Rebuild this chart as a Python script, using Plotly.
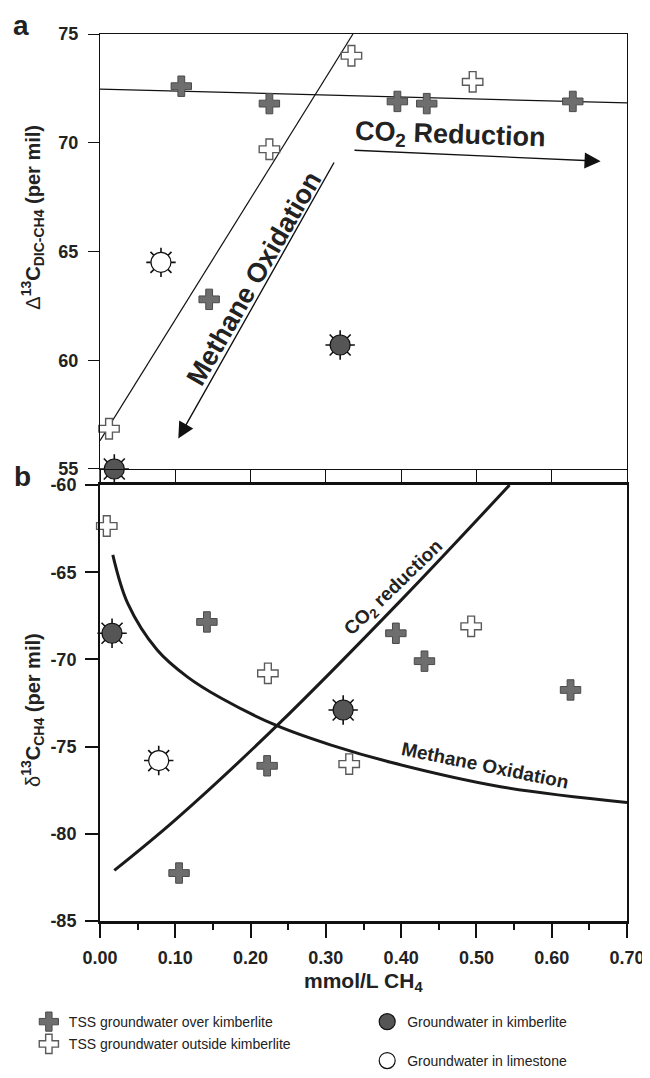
import plotly.graph_objects as go

# ---------------- data ----------------
# Panel a: Δ13C(DIC-CH4) vs CH4
over_x_a = [0.108, 0.225, 0.145, 0.395, 0.434, 0.628]
over_y_a = [72.6, 71.8, 62.8, 71.9, 71.8, 71.9]
out_x_a = [0.225, 0.334, 0.495, 0.012]
out_y_a = [69.7, 74.0, 72.8, 56.85]
gwk_x_a = [0.019, 0.319]
gwk_y_a = [55.0, 60.7]
lime_x_a = [0.081]
lime_y_a = [64.5]
trend_x_a = [0.0, 0.70]
trend_y_a = [72.47, 71.83]
steep_x_a = [0.0, 0.336]
steep_y_a = [56.3, 75.0]
# arrows (tail -> head)
mox_arrow_x = [0.312, 0.104]
mox_arrow_y = [69.16, 56.4]
co2_arrow_x = [0.336, 0.665]
co2_arrow_y = [69.66, 69.15]

# Panel b: δ13C(CH4) vs CH4
over_x_b = [0.142, 0.222, 0.105, 0.393, 0.431, 0.625]
over_y_b = [-67.85, -76.1, -82.25, -68.5, -70.1, -71.75]
out_x_b = [0.009, 0.223, 0.493, 0.331]
out_y_b = [-62.35, -70.8, -68.1, -76.0]
gwk_x_b = [0.016, 0.323]
gwk_y_b = [-68.5, -72.9]
lime_x_b = [0.078]
lime_y_b = [-75.8]
co2_x_b = [0.019, 0.10, 0.235, 0.40, 0.544]
co2_y_b = [-82.1, -79.2, -73.8, -66.6, -60.0]
mox_x_b = [0.017, 0.037, 0.076, 0.116, 0.16, 0.235, 0.306, 0.386, 0.532, 0.70]
mox_y_b = [-64.0, -66.8, -69.46, -71.0, -72.2, -73.8, -74.9, -75.9, -77.3, -78.2]

x_ticks = [0.0, 0.1, 0.2, 0.3, 0.4, 0.5, 0.6, 0.7]
x_tick_labels = ["0.00", "0.10", "0.20", "0.30", "0.40", "0.50", "0.60", "0.70"]
ya_ticks = [55, 60, 65, 70, 75]
ya_tick_labels = ["55", "60", "65", "70", "75"]
yb_ticks = [-85, -80, -75, -70, -65, -60]
yb_tick_labels = ["-85", "-80", "-75", "-70", "-65", "-60"]
names = ["TSS groundwater over kimberlite", "TSS groundwater outside kimberlite",
         "Groundwater in kimberlite", "Groundwater in limestone"]

FONT = "Liberation Sans, Arial, Helvetica, sans-serif"
INK = "#222222"

fig = go.Figure()

def add_points(xs, ys, xa, ya, show):
    fig.add_trace(go.Scatter(x=xs[0], y=ys[0], xaxis=xa, yaxis=ya, mode="markers",
        marker=dict(symbol="cross", size=17, color="#6e6e6e", line=dict(color="#4a4a4a", width=1)),
        name=names[0], showlegend=show, legend="legend", cliponaxis=False))
    fig.add_trace(go.Scatter(x=xs[1], y=ys[1], xaxis=xa, yaxis=ya, mode="markers",
        marker=dict(symbol="cross", size=17, color="white", line=dict(color="#5a5a5a", width=1.4)),
        name=names[1], showlegend=show, legend="legend2", cliponaxis=False))
    for k in (2, 3):
        fig.add_trace(go.Scatter(x=xs[k], y=ys[k], xaxis=xa, yaxis=ya, mode="markers",
            marker=dict(symbol="x-thin-open", size=21, color="#111111",
                        line=dict(color="#111111", width=1.6)),
            showlegend=False, hoverinfo="skip", cliponaxis=False))
        fig.add_trace(go.Scatter(x=xs[k], y=ys[k], xaxis=xa, yaxis=ya, mode="markers",
            marker=dict(symbol="cross-thin-open", size=21, color="#111111",
                        line=dict(color="#111111", width=1.6)),
            showlegend=False, hoverinfo="skip", cliponaxis=False))
    fig.add_trace(go.Scatter(x=xs[2], y=ys[2], xaxis=xa, yaxis=ya, mode="markers",
        marker=dict(symbol="circle", size=20, color="#555555", line=dict(color="#111111", width=1.2)),
        name=names[2], showlegend=show, legend="legend3", cliponaxis=False))
    fig.add_trace(go.Scatter(x=xs[3], y=ys[3], xaxis=xa, yaxis=ya, mode="markers",
        marker=dict(symbol="circle", size=20, color="white", line=dict(color="#111111", width=1.2)),
        name=names[3], showlegend=show, legend="legend4", cliponaxis=False))

# lines panel a
fig.add_trace(go.Scatter(x=trend_x_a, y=trend_y_a, xaxis="x", yaxis="y", mode="lines",
    line=dict(color="#111111", width=1.2), showlegend=False, hoverinfo="skip"))
fig.add_trace(go.Scatter(x=steep_x_a, y=steep_y_a, xaxis="x", yaxis="y", mode="lines",
    line=dict(color="#111111", width=1.2), showlegend=False, hoverinfo="skip"))
# curves panel b
fig.add_trace(go.Scatter(x=co2_x_b, y=co2_y_b, xaxis="x2", yaxis="y2", mode="lines",
    line=dict(color="#1a1a1a", width=3, shape="spline"), showlegend=False, hoverinfo="skip"))
fig.add_trace(go.Scatter(x=mox_x_b, y=mox_y_b, xaxis="x2", yaxis="y2", mode="lines",
    line=dict(color="#1a1a1a", width=3, shape="spline"), showlegend=False, hoverinfo="skip"))

add_points([over_x_a, out_x_a, gwk_x_a, lime_x_a], [over_y_a, out_y_a, gwk_y_a, lime_y_a], "x", "y", True)
add_points([over_x_b, out_x_b, gwk_x_b, lime_x_b], [over_y_b, out_y_b, gwk_y_b, lime_y_b], "x2", "y2", False)

tickfont = dict(family=FONT, size=18, color=INK, weight="bold")
legfont = dict(family=FONT, size=14, color=INK)

def leg(x, y):
    return dict(x=x, y=y, xanchor="left", yanchor="middle", orientation="v",
                font=legfont, bgcolor="rgba(0,0,0,0)", itemclick=False)

# The page body adds an 8px offset; the figure is made a little taller than the
# window so the bottom legend never forces plotly to shrink the plot area.
fig.update_layout(
    width=642, height=1110,
    margin=dict(l=92, r=23, t=26, b=197),
    paper_bgcolor="white", plot_bgcolor="white",
    font=dict(family=FONT, color=INK),
    xaxis=dict(domain=[0, 1], anchor="y", range=[0, 0.70], tickvals=x_ticks,
               showticklabels=False, ticks="outside", ticklen=15, tickwidth=1.2, tickcolor="#111",
               showline=True, linecolor="#111", linewidth=1.2, mirror=True,
               showgrid=False, zeroline=False, automargin=False),
    yaxis=dict(domain=[0.5096, 1], anchor="x", range=[55, 75], tickvals=ya_ticks,
               ticktext=ya_tick_labels,
               ticks="outside", ticklen=11, tickwidth=1.2, tickcolor="#111",
               showline=True, linecolor="#111", linewidth=1.2, mirror=True,
               showgrid=False, zeroline=False, tickfont=tickfont, automargin=False,
               ticklabelstandoff=6),
    xaxis2=dict(domain=[0, 1], anchor="y2", range=[0, 0.70], tickvals=x_ticks,
                ticktext=x_tick_labels, ticks="outside", ticklen=14, tickwidth=2.2, tickcolor="#111",
                minor=dict(dtick=0.05, tick0=0, ticks="outside", ticklen=6, tickwidth=1.8, tickcolor="#111"),
                showline=True, linecolor="#111", linewidth=2.6, mirror=True,
                showgrid=False, zeroline=False, tickfont=tickfont, automargin=False,
                ticklabelstandoff=5),
    yaxis2=dict(domain=[0, 0.4915], anchor="x2", range=[-85, -60], tickvals=yb_ticks,
                ticktext=yb_tick_labels,
                ticks="outside", ticklen=13, tickwidth=2, tickcolor="#111",
                showline=True, linecolor="#111", linewidth=2, mirror=True,
                showgrid=False, zeroline=False, tickfont=tickfont, automargin=False,
                ticklabelstandoff=5),
    legend=leg(-0.135, -0.1139),
    legend2=leg(-0.135, -0.1390),
    legend3=leg(0.507, -0.1139),
    legend4=leg(0.507, -0.1578),
    showlegend=True,
)

# left axis continuation through gap between panels
fig.add_shape(type="line", xref="paper", yref="paper", x0=0, x1=0, y0=0.4915, y1=0.5096,
              line=dict(color="#111", width=1.4))

annos = [
    dict(text="<b>a</b>", x=-0.150, y=1.010, xref="paper", yref="paper", showarrow=False,
         font=dict(family=FONT, size=28, color=INK), xanchor="center", yanchor="middle"),
    dict(text="<b>b</b>", x=-0.148, y=0.5006, xref="paper", yref="paper", showarrow=False,
         font=dict(family=FONT, size=28, color=INK), xanchor="center", yanchor="middle"),
    dict(text="Δ<b><sup>13</sup>C<sub>DIC-CH4</sub> (per mil)</b>", x=-0.127, y=0.793,
         xref="paper", yref="paper", showarrow=False, textangle=-90,
         font=dict(family=FONT, size=20, color=INK), xanchor="center", yanchor="middle"),
    dict(text="δ<b><sup>13</sup>C<sub>CH4</sub> (per mil)</b>", x=-0.127, y=0.238,
         xref="paper", yref="paper", showarrow=False, textangle=-90,
         font=dict(family=FONT, size=20, color=INK), xanchor="center", yanchor="middle"),
    dict(text="<b>mmol/L CH<sub>4</sub></b>", x=0.5, y=-0.0688, xref="paper", yref="paper",
         showarrow=False, font=dict(family=FONT, size=21, color=INK),
         xanchor="center", yanchor="middle"),
    dict(text="<b>CO<sub>2</sub> Reduction</b>", x=0.465, y=70.31, xref="x", yref="y",
         showarrow=False, textangle=2, font=dict(family=FONT, size=27, color=INK)),
    dict(text="<b>Methane Oxidation</b>", x=0.205, y=63.78, xref="x", yref="y",
         showarrow=False, textangle=-60, font=dict(family=FONT, size=27, color=INK)),
    dict(text="", x=mox_arrow_x[1], y=mox_arrow_y[1], ax=mox_arrow_x[0], ay=mox_arrow_y[0],
         xref="x", yref="y", axref="x", ayref="y", showarrow=True, arrowhead=2,
         arrowsize=2.3, arrowwidth=1.4, arrowcolor="#111"),
    dict(text="", x=co2_arrow_x[1], y=co2_arrow_y[1], ax=co2_arrow_x[0], ay=co2_arrow_y[0],
         xref="x", yref="y", axref="x", ayref="y", showarrow=True, arrowhead=2,
         arrowsize=2.3, arrowwidth=1.4, arrowcolor="#111"),
    dict(text="<b>CO<sub>2</sub> reduction</b>", x=0.391, y=-65.9, xref="x2", yref="y2",
         showarrow=False, textangle=-44, font=dict(family=FONT, size=19, color=INK)),
    dict(text="<b>Methane Oxidation</b>", x=0.512, y=-76.1, xref="x2", yref="y2",
         showarrow=False, textangle=11.5, font=dict(family=FONT, size=19, color=INK)),
]
fig.update_layout(annotations=annos)

fig.write_html("out.html")
